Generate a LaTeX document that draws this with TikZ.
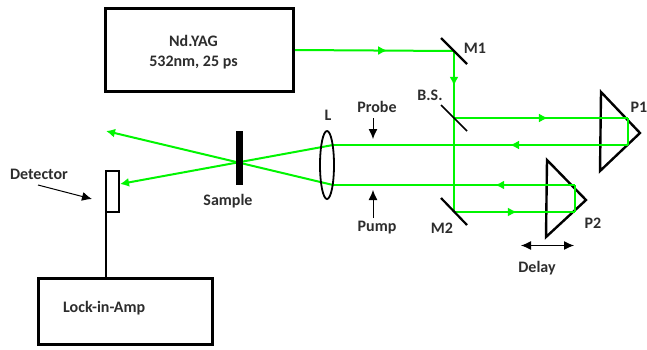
\documentclass[tikz,border=0pt]{standalone}
\usepackage{fontspec}
\setmainfont{Carlito}
\usetikzlibrary{arrows.meta,decorations.markings}
\definecolor{beam}{RGB}{0,245,0}
\definecolor{lab}{RGB}{45,45,45}
\tikzset{
  x=1pt,y=-1pt,
  thickbox/.style={draw=black,line width=3pt,fill=white,inner sep=0pt},
  lbl/.style={font=\bfseries\fontsize{16}{20}\selectfont,text=lab,inner sep=0pt,align=center},
  ray/.style={draw=beam,line width=2pt},
  raytip/.style={postaction={decorate},decoration={markings,mark=at position #1 with {\arrow[beam]{Latex[length=9pt,width=9pt]}}}},
  mirror/.style={draw=black,line width=2pt},
  prism/.style={draw=black,line width=2.4pt,line join=miter},
  pointer/.style={draw=black,line width=1pt,-{Latex[length=10pt,width=9pt]}},
  dbl/.style={draw=black,line width=1pt,{Latex[length=10pt,width=9pt]}-{Latex[length=10pt,width=9pt]}}
}
\begin{document}
\begin{tikzpicture}
\useasboundingbox (0,0) rectangle (647,349);
% boxes
\node[thickbox,minimum width=188pt,minimum height=83pt] (yag) at (199.5,50) {};
\node[lbl] (yaglab) at (193.5,52) {Nd.YAG\\532nm, 25 ps};
\node[thickbox,minimum width=174pt,minimum height=66pt] (amp) at (125.5,311.5) {};
\node[lbl,anchor=west] (amplab) at (63,308) {Lock-in-Amp};
\node[draw=black,line width=1.8pt,fill=white,minimum width=13.5pt,minimum height=41pt,inner sep=0pt] (det) at (112.5,191.5) {};
\coordinate (wireTop) at (106,212);
\coordinate (wireBot) at (106,277);
\draw[black,line width=1.6pt] (wireTop) -- (wireBot);
% prisms
\draw[prism] (601,92) -- (640,133) -- (600,171) -- cycle;
\draw[prism] (547,160) -- (586,200) -- (546,237) -- cycle;
% coordinates of the beam path
\coordinate (src) at (295,50);
\coordinate (m1) at (454,51);
\coordinate (bs) at (454,118);
\coordinate (m2) at (454,212);
\coordinate (p1a) at (628,118);
\coordinate (p1b) at (628,145);
\coordinate (p2a) at (575,212);
\coordinate (p2b) at (575,185);
\coordinate (lensA) at (333,145);
\coordinate (lensB) at (333,185);
\coordinate (outA) at (120,184);
\coordinate (outB) at (106,131);
% beams
\draw[ray,raytip=0.58] (src) -- (m1);
\draw[ray,raytip=0.52] (m1) -- (bs);
\draw[ray] (bs) -- (m2);
\draw[ray,raytip=0.54] (bs) -- (p1a);
\draw[ray] (p1a) -- (p1b);
\draw[ray,raytip=0.4] (p1b) -- (lensA);
\draw[ray,raytip=0.52] (m2) -- (p2a);
\draw[ray] (p2a) -- (p2b);
\draw[ray,raytip=0.33] (p2b) -- (lensB);
\draw[ray,-{Latex[length=9pt,width=9pt]}] (lensA) -- (outA);
\draw[ray,-{Latex[length=9pt,width=9pt]}] (lensB) -- (outB);
% mirrors
\draw[mirror,line width=2.2pt] (441,38) -- (467,64);
\draw[mirror,line width=1.5pt] (441,105) -- (467,131);
\draw[mirror,line width=2.2pt] (441,198) -- (467,225);
% lens and sample
\draw[black,line width=1.8pt] (327,165) ellipse [x radius=7,y radius=34];
\fill[black] (236,131) rectangle (243,185);
% labels
\node[lbl] (lm1) at (475,48) {M1};
\node[lbl] (lbs) at (430,95) {B.S.};
\node[lbl] (lp1) at (639,107) {P1};
\node[lbl] (lm2) at (442,228) {M2};
\node[lbl] (lp2) at (593,223) {P2};
\node[lbl] (ldelay) at (537,268) {Delay};
\node[lbl] (ll) at (328,115) {L};
\node[lbl] (lprobe) at (377,107) {Probe};
\node[lbl] (lpump) at (377,228) {Pump};
\node[lbl] (lsample) at (228,201) {Sample};
\node[lbl] (ldet) at (39,174) {Detector};
% pointers
\coordinate (probeT) at (373,118);
\coordinate (probeH) at (373,139);
\coordinate (pumpT) at (373,218);
\coordinate (pumpH) at (373,190);
\coordinate (detT) at (38,185);
\coordinate (detH) at (92,199);
\coordinate (delL) at (521,245.5);
\coordinate (delR) at (574,245.5);
\draw[pointer] (probeT) -- (probeH);
\draw[pointer] (pumpT) -- (pumpH);
\draw[pointer] (detT) -- (detH);
\draw[dbl] (delL) -- (delR);
\end{tikzpicture}
\end{document}
